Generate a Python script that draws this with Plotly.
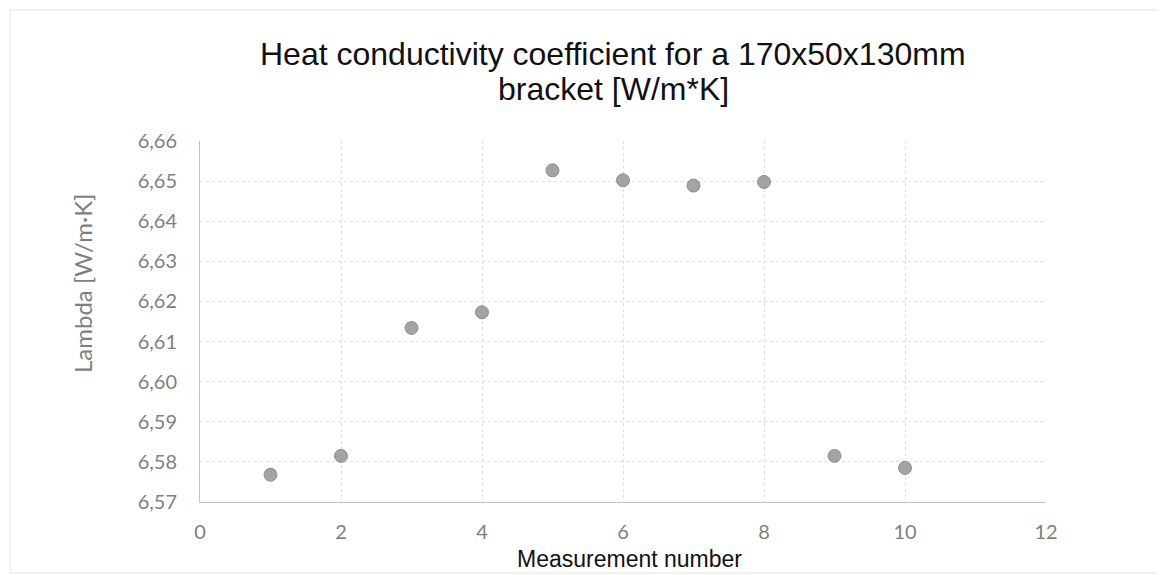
import plotly.graph_objects as go

# Data
measurement = [1, 2, 3, 4, 5, 6, 7, 8, 9, 10]
lambda_vals = [6.5768, 6.5815, 6.6134, 6.6173, 6.6527, 6.6502, 6.6489, 6.6498, 6.5815, 6.5785]

title_line1 = "Heat conductivity coefficient for a 170x50x130mm"
title_line2 = "bracket [W/m*K]"
x_title = "Measurement number"
y_title = "Lambda [W/m\u00b7K]"

tick_font = dict(family="Lato, Open Sans, sans-serif", size=20, color="#7f7f7f")
title_font = dict(family="Liberation Sans, Arial, sans-serif", size=32, color="#111111")
grid_color = "#dedede"

# The page body has an 8px margin, so the figure is drawn 8px right/down.
OFF = 8
FIG_W, FIG_H = 1165 - OFF, 575 - OFF

# plot area in page pixels (as in the reference)
L, R, T, B = 200, 1046, 141, 502
W, H = R - L, B - T

def px(x):
    return (x - L) / W

def py(y):
    return (B - y) / H

fig = go.Figure()
fig.add_trace(go.Scatter(
    x=measurement, y=lambda_vals, mode="markers",
    marker=dict(size=13, color="#a3a3a3", line=dict(color="#8f8f8f", width=1)),
    showlegend=False, hoverinfo="x+y",
))

fig.update_layout(
    width=FIG_W, height=FIG_H,
    margin=dict(l=L - OFF, r=1165 - R, t=T - OFF, b=575 - B),
    paper_bgcolor="white", plot_bgcolor="white",
    separators=",.",
    xaxis=dict(range=[0, 12], dtick=2, tick0=0, showgrid=True, gridcolor=grid_color, griddash="dot",
               zeroline=False, showline=True, linecolor="#c4c4c4", linewidth=1,
               ticks="outside", ticklen=12, tickcolor="rgba(0,0,0,0)", tickfont=tick_font,
               fixedrange=True),
    yaxis=dict(range=[6.57, 6.66001], dtick=0.01, tick0=6.57, tickformat=".2f",
               showgrid=True, gridcolor=grid_color, griddash="dot",
               zeroline=False, showline=True, linecolor="#c4c4c4", linewidth=1,
               ticks="outside", ticklen=18, tickcolor="rgba(0,0,0,0)", tickfont=tick_font,
               fixedrange=True),
    annotations=[
        dict(text=title_line1, xref="paper", yref="paper", x=px(613), y=py(54),
             xanchor="center", yanchor="middle", showarrow=False, font=title_font),
        dict(text=title_line2, xref="paper", yref="paper", x=px(613), y=py(89),
             xanchor="center", yanchor="middle", showarrow=False, font=title_font),
        dict(text=y_title, xref="paper", yref="paper", x=px(82), y=py(284),
             xanchor="center", yanchor="middle", textangle=-90, showarrow=False,
             font=dict(family="Lato, Open Sans, sans-serif", size=24, color="#7f7f7f")),
        dict(text=x_title, xref="paper", yref="paper", x=px(629), y=py(574),
             xanchor="center", yanchor="bottom", showarrow=False,
             font=dict(family="Liberation Sans, Arial, sans-serif", size=23, color="#111111")),
    ],
    shapes=[
        dict(type="rect", xref="paper", yref="paper",
             x0=px(10), x1=px(1162), y0=py(573), y1=py(10),
             line=dict(color="#e2e2e2", width=1), layer="below"),
    ],
)

fig.write_html("out.html")
